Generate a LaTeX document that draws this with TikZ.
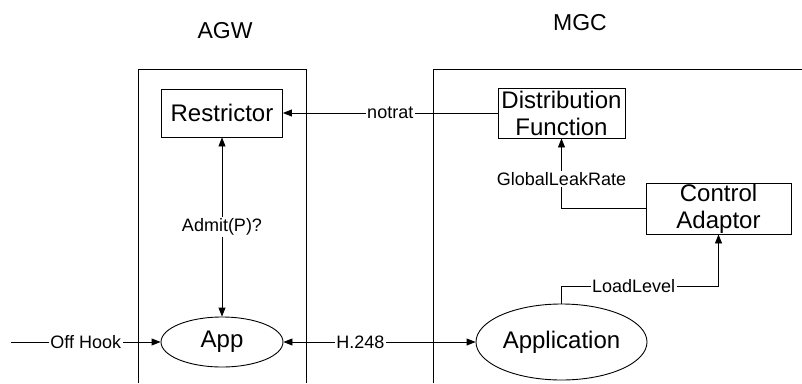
\documentclass[tikz,border=0pt]{standalone}
\usepackage{fontspec}
\setmainfont{Liberation Sans}
\usetikzlibrary{arrows.meta,shapes.geometric}
\begin{document}
\begin{tikzpicture}[x=1pt,y=-1pt,
  line width=0.9pt,
  tip/.tip={Triangle[length=9pt,width=7pt]},
  arr/.style={-tip},
  arr2/.style={tip-tip},
  box/.style={draw, rectangle, inner sep=0pt, align=center, font=\fontsize{24}{27}\selectfont},
  oval/.style={draw, ellipse, inner sep=0pt, font=\fontsize{24}{27}\selectfont},
  lab/.style={fill=white, inner sep=1.5pt, font=\fontsize{18}{20}\selectfont},
  title/.style={font=\fontsize{23}{26}\selectfont}]
\useasboundingbox (0,0) rectangle (802,383);
% titles
\node[title] (agw) at (225,31) {AGW};
\node[title] (mgc) at (580,23) {MGC};
% containers
\draw (138,383) -- (138,69) -- (306,69) -- (306,383);
\draw (433,383) -- (433,69) -- (802,69);
% nodes
\node[box, minimum width=121pt, minimum height=48pt] (restrictor) at (222,113) {Restrictor};
\node[box, minimum width=127pt, minimum height=50pt] (dist) at (561.5,113) {Distribution\\Function};
\node[box, minimum width=145pt, minimum height=51pt] (ctrl) at (718.5,208.5) {Control\\Adaptor};
\node[oval, minimum width=122pt, minimum height=50pt] (app) at (222,342) {App};
\node[oval, minimum width=171pt, minimum height=76pt] (application) at (561.5,342) {Application};
\coordinate (offhook) at (11,342);
% connectors
\draw[arr] (dist.west) -- node[lab] {notrat} (restrictor.east);
\draw[arr2] (restrictor.south) -- node[lab] {Admit(P)?} (app.north);
\draw[arr] (offhook) -- node[lab] {Off Hook} (app.east -| app.west);
\draw[arr2] (app.east) -- node[lab, pos=0.4] {H.248} (application.west);
\draw[arr] (application.north) -- ++(0,-17) -| node[lab, pos=0.23] {LoadLevel} (ctrl.south);
\draw[arr] (ctrl.west) -| node[lab, pos=0.71] {GlobalLeakRate} (dist.south);
\end{tikzpicture}
\end{document}
